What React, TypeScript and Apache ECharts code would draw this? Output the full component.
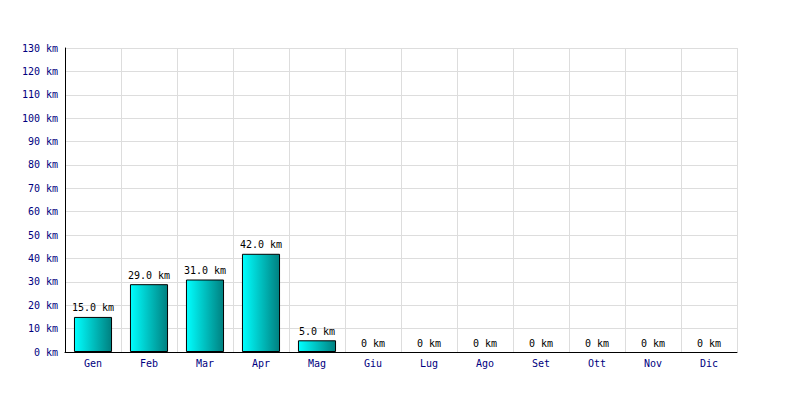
import React, { useEffect, useRef } from "react";
import * as echarts from "echarts";

const categories = ["Gen", "Feb", "Mar", "Apr", "Mag", "Giu", "Lug", "Ago", "Set", "Ott", "Nov", "Dic"];
const distances = [15, 29, 31, 42, 5, 0, 0, 0, 0, 0, 0, 0];
const yMin = 0;
const yMax = 130;
const yInterval = 10;

const FONT = "DejaVu Sans Mono";

export default function App() {
  const ref = useRef<HTMLDivElement>(null);
  useEffect(() => {
    if (!ref.current) return;
    const chart = echarts.init(ref.current, null, { renderer: "svg" });
    chart.setOption({
      animation: false,
      backgroundColor: "#ffffff",
      grid: { left: 65, right: 63, top: 48, bottom: 48, containLabel: false },
      xAxis: {
        type: "category",
        data: categories,
        boundaryGap: true,
        axisLine: { show: true, lineStyle: { color: "#000000", width: 1 } },
        axisTick: { show: false },
        axisLabel: { color: "#000080", fontFamily: FONT, fontSize: 10, margin: 6 },
        splitLine: { show: true, interval: 0, lineStyle: { color: "#dddddd", width: 1 } },
      },
      yAxis: {
        type: "value",
        min: yMin,
        max: yMax,
        interval: yInterval,
        axisLine: { show: true, lineStyle: { color: "#000000", width: 1 } },
        axisTick: { show: false },
        axisLabel: {
          color: "#000080",
          fontFamily: FONT,
          fontSize: 10,
          margin: 7,
          formatter: (v: number) => `${v} km`,
        },
        splitLine: { show: true, lineStyle: { color: "#dddddd", width: 1 } },
      },
      series: [
        {
          type: "bar",
          data: distances.map((v) =>
            v === 0
              ? { value: v, itemStyle: { borderWidth: 0, borderColor: "rgba(0,0,0,0)", color: "rgba(0,0,0,0)" } }
              : { value: v }
          ),
          barWidth: "68%",
          itemStyle: {
            borderColor: "#000000",
            borderWidth: 1,
            color: new echarts.graphic.LinearGradient(0, 0, 1, 0, [
              { offset: 0, color: "#00ffff" },
              { offset: 1, color: "#008080" },
            ]),
          },
          label: {
            show: true,
            position: "top",
            distance: 4,
            color: "#000000",
            fontFamily: FONT,
            fontSize: 10,
            formatter: (p: any) => (p.value === 0 ? "0 km" : `${Number(p.value).toFixed(1)} km`),
          },
        },
      ],
    });
    return () => chart.dispose();
  }, []);
  return (
    <div
      ref={ref}
      style={{ position: "absolute", left: 0, top: 0, width: 800, height: 400 }}
    />
  );
}
